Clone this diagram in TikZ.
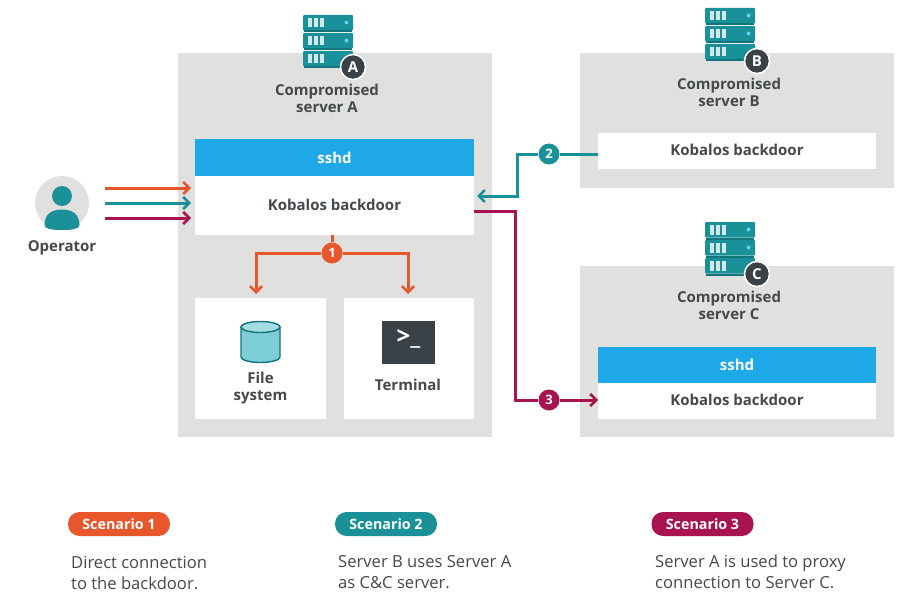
\documentclass[tikz,border=0pt]{standalone}
\usepackage{fontspec}
\setmainfont{Open Sans}
\usetikzlibrary{arrows.meta}
\definecolor{panelgrey}{HTML}{E0E1DF}
\definecolor{sky}{HTML}{1FA8E8}
\definecolor{tealc}{HTML}{1A9199}
\definecolor{tealdark}{HTML}{14747C}
\definecolor{orangec}{HTML}{E8572B}
\definecolor{crimson}{HTML}{A81350}
\definecolor{darktxt}{HTML}{44494D}
\definecolor{badgedark}{HTML}{3A4248}
\definecolor{cylfill}{HTML}{7CCDD6}
\tikzset{
  x=1pt,y=-1pt,
  whitebox/.style={fill=white,draw=none,inner sep=0pt,text=darktxt,font=\fontsize{15}{18}\selectfont\bfseries,align=center},
  skybox/.style={fill=sky,draw=none,inner sep=0pt,text=white,font=\fontsize{15}{18}\selectfont\bfseries},
  lab/.style={text=darktxt,font=\fontsize{15}{17}\selectfont\bfseries,align=center,inner sep=0pt},
  conn/.style={line width=3pt,-{Straight Barb[length=6pt,width=12pt,line width=2.6pt]}},
  connplain/.style={line width=3pt},
  num/.style={circle,inner sep=0pt,minimum size=21pt,text=white,font=\fontsize{13}{13}\selectfont\bfseries},
  letterb/.style={circle,inner sep=0pt,minimum size=25pt,fill=badgedark,draw=white,line width=1.5pt,text=white,font=\fontsize{15}{15}\selectfont\bfseries},
  pill/.style={rounded corners=11.5pt,inner sep=0pt,minimum width=102pt,minimum height=24pt,text=white,font=\fontsize{14.3}{15}\selectfont\bfseries},
  desc/.style={anchor=north west,align=left,inner sep=0pt,text=darktxt,font=\fontsize{16.6}{21}\selectfont},
}
\newcommand{\serverbar}[2]{%
  \fill[tealc,rounded corners=1pt] (#1,#2) rectangle ++(50,15.5);
  \fill[tealdark] (#1+1,#2+15.5) rectangle ++(48,2);
  \foreach \dx in {5,11,17}{\fill[white!80!tealc] (#1+\dx,#2+3) rectangle ++(3.5,9.5);}
  }
\newcommand{\servericon}[2]{%
  \serverbar{#1}{#2}\serverbar{#1}{#2+18}\serverbar{#1}{#2+36}%
  \fill[cyan!60!white] (#1+43.5,#2+7.5) circle (2);
  \fill[cyan!60!white] (#1+43.5,#2+25.5) circle (2);
}
\begin{document}
\begin{tikzpicture}
\useasboundingbox (0,0) rectangle (910,594);
\fill[white] (0,0) rectangle (910,594);
% panels
\fill[panelgrey] (178,53) rectangle (492,437);
\fill[panelgrey] (580,53) rectangle (894,188);
\fill[panelgrey] (580,266) rectangle (894,437);
% server icons
\servericon{303}{15}
\servericon{705}{8}
\servericon{705}{222}
\node[letterb] (ba) at (353,67) {A};
\node[letterb] (bb) at (757,61) {B};
\node[letterb] (bc) at (757,274) {C};
\node[lab] (la) at (327,98.5) {Compromised\\[-0.5pt]server A};
\node[lab] (lb) at (729,92.5) {Compromised\\[-0.5pt]server B};
\node[lab] (lc) at (729,305.5) {Compromised\\[-0.5pt]server C};
% boxes
\node[skybox,minimum width=279pt,minimum height=37pt] (sshda) at (334.5,157.5) {sshd};
\node[whitebox,minimum width=279pt,minimum height=59pt] (koba) at (334.5,205.5) {\raisebox{1.5pt}{Kobalos backdoor}};
\node[whitebox,minimum width=131pt,minimum height=121pt] (fs) at (260.5,358.5) {};
\node[whitebox,minimum width=130pt,minimum height=121pt] (term) at (409,358.5) {};
\node[whitebox,minimum width=278pt,minimum height=36pt] (kobb) at (737,151) {\raisebox{1.5pt}{Kobalos backdoor}};
\node[skybox,minimum width=278pt,minimum height=36pt] (sshdc) at (737,365) {sshd};
\node[whitebox,minimum width=278pt,minimum height=36pt] (kobc) at (737,401) {\raisebox{3pt}{Kobalos backdoor}};
% cylinder
\draw[tealdark,line width=1.4pt,fill=cylfill] (241,327) -- (241,357) arc[start angle=180,end angle=0,x radius=19.5,y radius=5.5] -- (280,327) -- cycle;
\draw[tealdark,line width=1.4pt,fill=cylfill!70!white] (260.5,327) ellipse[x radius=19.5,y radius=5.5];
\node[lab] (lf) at (260.5,388) {File\\system};
% terminal
\fill[badgedark] (382,321) rectangle (435,364);
\node[text=white,inner sep=0pt,font=\fontsize{24}{24}\selectfont\bfseries] (prompt) at (408.5,339) {>\_};
\node[lab] (lt) at (408,385) {Terminal};
% operator
\node[circle,fill=panelgrey,minimum size=54pt,inner sep=0pt] (op) at (62,203) {};
\fill[tealc] (62,196) circle (10);
\fill[tealc] (44.5,225) .. controls (44.5,214) and (52,209.5) .. (62,209.5) .. controls (72,209.5) and (79.5,214) .. (79.5,225) .. controls (79.5,229) and (72,230) .. (62,230) .. controls (52,230) and (44.5,229) .. (44.5,225) -- cycle;
\node[lab] (lo) at (62,247.5) {Operator};
% operator arrows
\coordinate (o1) at (105,188); \coordinate (o2) at (105,203); \coordinate (o3) at (105,218);
\coordinate (k1) at (191,188); \coordinate (k2) at (191,203); \coordinate (k3) at (191,218);
\draw[conn,orangec] (o1) -- (k1);
\draw[conn,tealc] (o2) -- (k2);
\draw[conn,crimson] (o3) -- (k3);
% scenario 1
\node[num,fill=orangec] (n1) at (332,253) {1};
\draw[connplain,orangec] (koba.south -| n1) -- (n1);
\draw[conn,orangec] (n1) -- (256,253) -- (256,294);
\draw[conn,orangec] (n1) -- (408,253) -- (408,294);
% scenario 2
\node[num,fill=tealc] (n2) at (549,154) {2};
\coordinate (b2) at (598,154);
\coordinate (a2) at (477,196);
\draw[connplain,tealc] (b2) -- (n2);
\draw[conn,tealc] (n2) -- (517,154) -- (517,196) -- (a2);
% scenario 3
\node[num,fill=crimson] (n3) at (549,400) {3};
\coordinate (a3) at (474,211);
\coordinate (c3) at (598,400);
\draw[connplain,crimson] (a3) -- (515,211) -- (515,400) -- (n3);
\draw[conn,crimson] (n3) -- (c3);
% legend
\node[pill,fill=orangec] (p1) at (119,524) {Scenario 1};
\node[pill,fill=tealc] (p2) at (386,524) {Scenario 2};
\node[pill,fill=crimson] (p3) at (702.5,524) {Scenario 3};
\node[desc] (d1) at (71,556) {Direct connection\\to the backdoor.};
\node[desc] (d2) at (338,555) {Server B uses Server A\\as C\&C server.};
\node[desc] (d3) at (655,555) {Server A is used to proxy\\connection to Server C.};
\end{tikzpicture}
\end{document}
